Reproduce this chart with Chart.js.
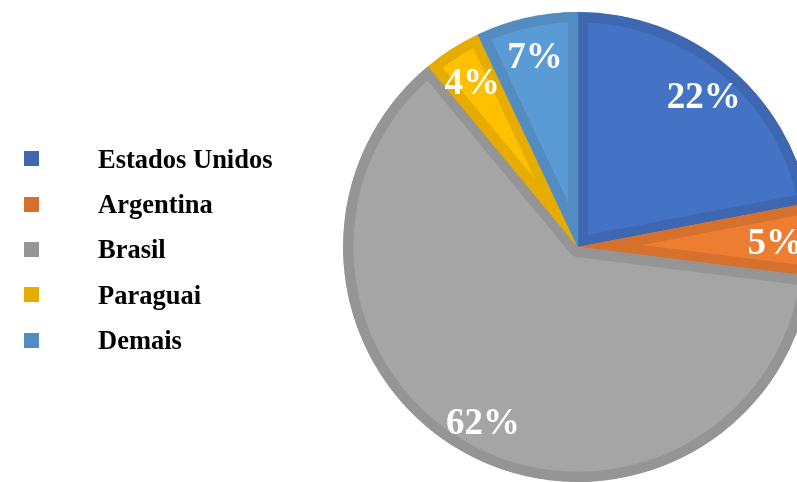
<!DOCTYPE html>
<html>
<head>
<meta charset="utf-8">
<script src="https://cdn.jsdelivr.net/npm/chart.js@4.4.1/dist/chart.umd.min.js"></script>
<style>
  html, body { margin: 0; padding: 0; background: #ffffff; overflow: hidden; }
  #wrap { position: relative; width: 797px; height: 482px; }
  #chart { position: absolute; left: 0; top: 0; width: 797px; height: 482px; }
  #legend { position: absolute; left: 24px; top: 136.35px; margin: 0; padding: 0; list-style: none; }
  #legend li { display: flex; align-items: center; height: 45.3px; }
  #legend .sw { width: 15px; height: 15px; flex: none; }
  #legend .tx { margin-left: 59px; font: bold 26.5px "Liberation Serif", "Times New Roman", serif; color: #000; line-height: 1; white-space: nowrap; }
</style>
</head>
<body>
<div id="wrap">
  <canvas id="chart" width="797" height="482"></canvas>
  <ul id="legend"></ul>
</div>
<script>
const categories = ["Estados Unidos", "Argentina", "Brasil", "Paraguai", "Demais"];
const shares = [22, 5, 62, 4, 7];
const fillColors = ["#4472C4", "#ED7D31", "#A5A5A5", "#FFC000", "#5B9BD5"];
const edgeColors = ["#3D67B0", "#D5712C", "#959595", "#E6AD00", "#528CC0"];

// HTML legend built from the arrays
const legendEl = document.getElementById('legend');
categories.forEach((name, i) => {
  const li = document.createElement('li');
  const sw = document.createElement('span');
  sw.className = 'sw';
  sw.style.background = edgeColors[i];
  const tx = document.createElement('span');
  tx.className = 'tx';
  tx.textContent = name;
  li.appendChild(sw);
  li.appendChild(tx);
  legendEl.appendChild(li);
});

const pctLabels = {
  id: 'pctLabels',
  afterDatasetsDraw(chart) {
    const ctx = chart.ctx;
    const meta = chart.getDatasetMeta(0);
    ctx.save();
    ctx.font = 'bold 37px "Liberation Serif", "Times New Roman", serif';
    ctx.fillStyle = '#ffffff';
    ctx.textAlign = 'center';
    ctx.textBaseline = 'middle';
    meta.data.forEach((arc, i) => {
      const p = arc.getProps(['x', 'y', 'startAngle', 'endAngle', 'outerRadius'], true);
      const mid = (p.startAngle + p.endAngle) / 2;
      const r = p.outerRadius * 0.84;
      ctx.fillText(shares[i] + '%', p.x + Math.cos(mid) * r, p.y + Math.sin(mid) * r + 4);
    });
    ctx.restore();
  }
};

new Chart(document.getElementById('chart'), {
  type: 'pie',
  data: {
    labels: categories,
    datasets: [{
      data: shares,
      backgroundColor: fillColors,
      borderColor: edgeColors,
      borderWidth: 10,
      borderAlign: 'inner',
      radius: 235,
      clip: false,
      hoverOffset: 0
    }]
  },
  options: {
    responsive: false,
    animation: false,
    events: [],
    layout: { padding: { left: 359, right: 0, top: 12, bottom: 0 } },
    plugins: {
      legend: { display: false },
      tooltip: { enabled: false },
      title: { display: false }
    }
  },
  plugins: [pctLabels]
});
</script>
</body>
</html>
